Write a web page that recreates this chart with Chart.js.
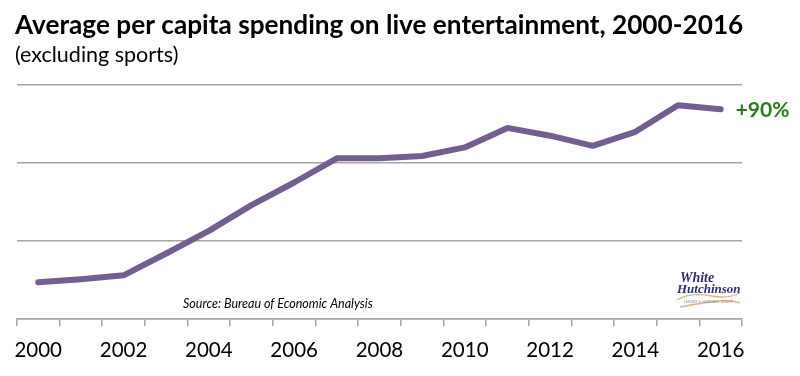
<!DOCTYPE html>
<html>
<head>
<meta charset="utf-8">
<title>Live entertainment spending</title>
<script src="https://cdn.jsdelivr.net/npm/chart.js@4.4.1/dist/chart.umd.min.js"></script>
<style>
  html, body { margin: 0; padding: 0; background: #fff; }
  #wrap { width: 800px; height: 376px; }
</style>
</head>
<body>
<div id="wrap"><canvas id="spendingChart"></canvas></div>
<script>
// One category per year
const years = ['2000', '2001', '2002', '2003', '2004', '2005', '2006', '2007', '2008',
               '2009', '2010', '2011', '2012', '2013', '2014', '2015', '2016'];
// Only every second year is labelled
const yearLabels = ['2000', '', '2002', '', '2004', '', '2006', '', '2008',
                    '', '2010', '', '2012', '', '2014', '', '2016'];
// Average per capita spending (axis has no labels)
const spending = [24.7, 25.1, 25.6, 28.4, 31.3, 34.6, 37.5, 40.6, 40.6,
                  40.9, 42.0, 44.5, 43.5, 42.2, 44.0, 47.4, 46.9];
const yRange = [20, 50];
const yStep = 10;

const chartTitle = 'Average per capita spending on live entertainment, 2000-2016';
const chartSubtitle = '(excluding sports)';
const changeLabel = '+90%';
const sourceNote = 'Source: Bureau of Economic Analysis';

const gridGray = '#a6a6a6';

// titles, the +90% note, source line and the little logo
const annotations = {
    id: 'annotations',
    afterDraw(chart) {
        const ctx = chart.ctx;
        const xs = chart.scales.x;
        const ys = chart.scales.y;
        ctx.save();
        ctx.textAlign = 'left';
        ctx.textBaseline = 'alphabetic';
        ctx.fillStyle = '#000';
        ctx.font = 'bold 26.2px Lato';
        ctx.fillText(chartTitle, 15, 34);
        ctx.font = '21.5px Lato';
        ctx.fillText(chartSubtitle, 15, 62);

        // change label next to the last point
        const last = spending.length - 1;
        ctx.fillStyle = '#2b7d1c';
        ctx.font = 'bold 21px Lato';
        ctx.textBaseline = 'middle';
        ctx.fillText(changeLabel, xs.getPixelForValue(last) + 15, ys.getPixelForValue(spending[last]) + 1);

        ctx.fillStyle = '#000';
        ctx.textBaseline = 'alphabetic';
        ctx.font = 'italic 12.5px Lato';
        ctx.fillText(sourceNote, 183, 308);

        // logo
        ctx.fillStyle = '#2c2f7c';
        ctx.font = 'italic bold 14px "Liberation Serif"';
        ctx.fillText('White', 680, 282);
        ctx.font = 'italic bold 13px "Liberation Serif"';
        ctx.fillText('Hutchinson', 677, 293);
        ctx.strokeStyle = '#eab27f';
        ctx.lineWidth = 1.3;
        ctx.beginPath();
        ctx.moveTo(677, 300);
        ctx.quadraticCurveTo(690, 292, 712, 296);
        ctx.quadraticCurveTo(728, 299, 740, 293);
        ctx.stroke();
        ctx.beginPath();
        ctx.moveTo(680, 307);
        ctx.quadraticCurveTo(700, 303, 718, 301);
        ctx.quadraticCurveTo(732, 300, 740, 303);
        ctx.stroke();
        ctx.fillStyle = '#8a8aa0';
        ctx.font = '3.5px Lato';
        ctx.fillText('LEISURE & LEARNING  GROUP', 684, 303);
        ctx.restore();
    }
};

new Chart(document.getElementById('spendingChart'), {
    type: 'line',
    data: {
        labels: years,
        datasets: [{
            data: spending,
            borderColor: '#725e91',
            borderWidth: 6,
            borderCapStyle: 'round',
            borderJoinStyle: 'round',
            pointRadius: 0,
            fill: false,
            tension: 0
        }]
    },
    options: {
        responsive: true,
        maintainAspectRatio: false,
        animation: false,
        layout: { padding: { top: 85, left: 15, right: 58, bottom: 1.5 } },
        plugins: {
            legend: { display: false },
            tooltip: { enabled: false }
        },
        scales: {
            x: {
                offset: true,
                grid: {
                    offset: true,
                    drawOnChartArea: false,
                    tickLength: 7,
                    color: gridGray,
                    lineWidth: 1.5
                },
                border: { color: gridGray, width: 1.5 },
                ticks: {
                    autoSkip: false,
                    maxRotation: 0,
                    padding: 14,
                    color: '#000',
                    font: { family: 'Lato', size: 20.5, lineHeight: 1 },
                    callback: (value, index) => yearLabels[index]
                }
            },
            y: {
                min: yRange[0],
                max: yRange[1],
                ticks: { display: false, stepSize: yStep },
                grid: { drawTicks: false, color: gridGray, lineWidth: 1.5 },
                border: { display: false }
            }
        }
    },
    plugins: [annotations]
});
</script>
</body>
</html>
